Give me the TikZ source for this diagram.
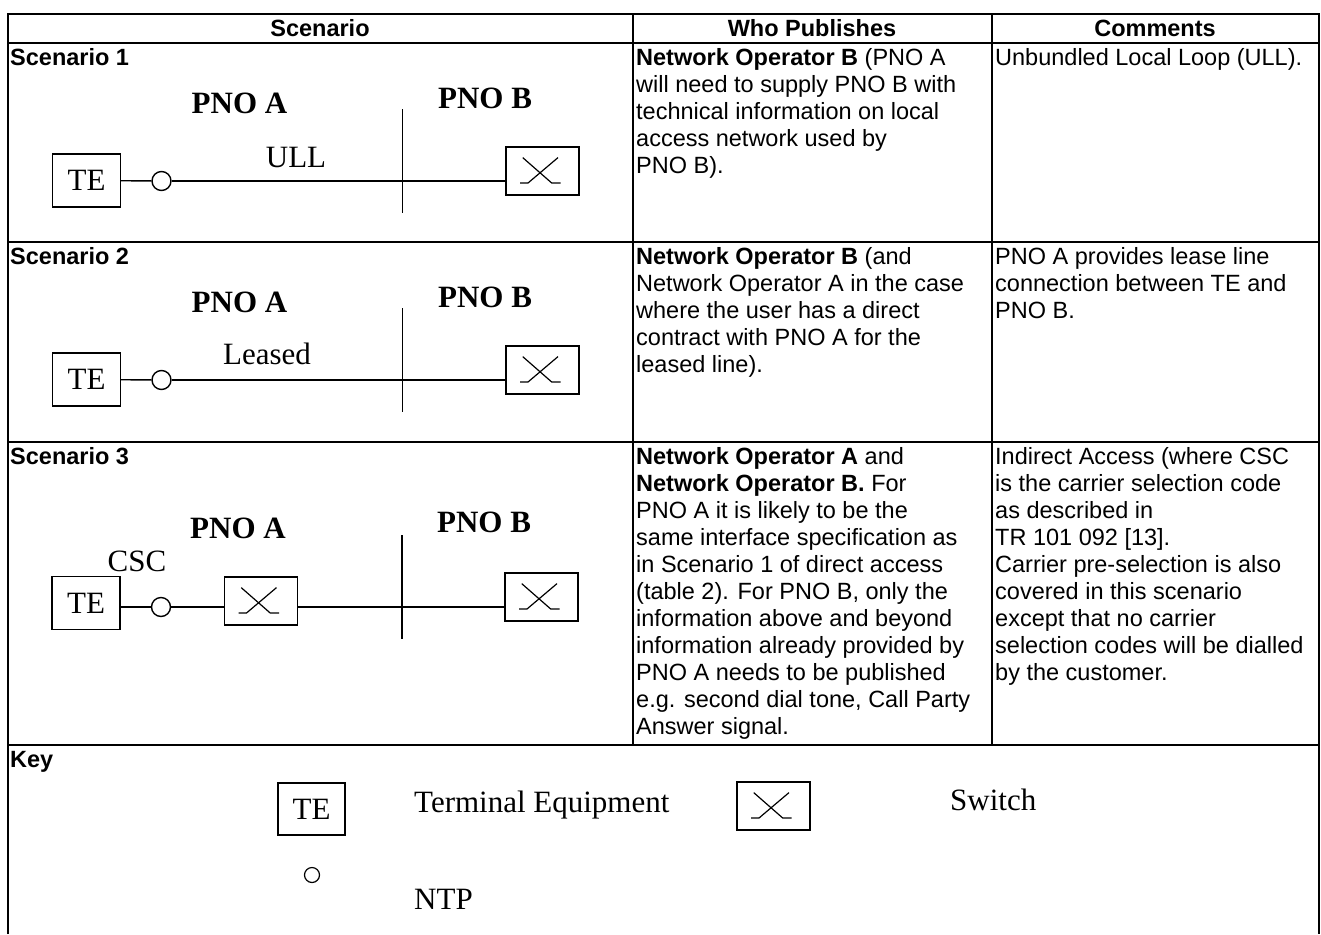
\documentclass[tikz,border=0pt]{standalone}
\usepackage{fontspec}
\setmainfont{Liberation Serif}
\setsansfont{Liberation Sans}
\usetikzlibrary{positioning,calc}

\newcommand{\diagfont}{\fontsize{31}{36}\selectfont}
\newcommand{\tabfont}{\sffamily\fontsize{23.5}{27}\selectfont}

\tikzset{
  gridline/.style={line width=2pt},
  wire/.style={line width=1.4pt},
  tebox/.style={draw, line width=1.4pt, minimum width=68pt, minimum height=53pt, inner sep=0pt, font=\diagfont},
  swbox/.style={draw, line width=1.4pt, minimum width=73pt, minimum height=48pt, inner sep=0pt,
    path picture={
      \draw[line width=1.2pt] ([shift={(16.7,10.6)}]path picture bounding box.north west)
        -- ([shift={(45.7,36)}]path picture bounding box.north west)
        -- ([shift={(54.7,36)}]path picture bounding box.north west);
      \draw[line width=1.2pt] ([shift={(52,10.6)}]path picture bounding box.north west)
        -- ([shift={(22,36)}]path picture bounding box.north west)
        -- ([shift={(14,36)}]path picture bounding box.north west);
    }},
  ntp/.style={circle, draw, line width=1.4pt, minimum size=19pt, inner sep=0pt},
  pno/.style={font=\diagfont\bfseries, anchor=base, inner sep=0pt},
  lbl/.style={font=\diagfont, anchor=base, inner sep=0pt},
  keytext/.style={font=\diagfont, anchor=base west, inner sep=0pt},
  cell/.style={font=\tabfont, align=left, anchor=north west, inner sep=0pt},
  rowhead/.style={font=\tabfont\bfseries, anchor=base west, inner sep=0pt},
  colhead/.style={font=\tabfont\bfseries, anchor=base, inner sep=0pt}
}

\begin{document}
\begin{tikzpicture}[x=1pt, y=-1pt]
\useasboundingbox (0,0) rectangle (1321,934);

% table frame
\draw[gridline] (8,934) -- (8,14) -- (1319,14) -- (1319,934);
\foreach \ry in {43,242,442,745}
  \draw[gridline] (8,\ry) -- (1319,\ry);
\draw[gridline] (633,14) -- (633,745);
\draw[gridline] (992,14) -- (992,745);

% headings
\node[colhead] (hScen) at (320,37) {Scenario};
\node[colhead] (hWho) at (812,37) {Who Publishes};
\node[colhead] (hCom) at (1155,37) {Comments};

% scenario 1
\node[rowhead] (s1) at (10,65) {Scenario 1};
\node[pno] (s1a) at (239.5,113) {PNO A};
\node[pno] (s1b) at (485,108) {PNO B};
\node[lbl] (ull) at (296,167) {ULL};
\node[tebox] (te1) at (86.5,180.5) {TE};
\node[ntp] (ntp1) at (161.5,181) {};
\node[swbox] (sw1) at (542.5,171) {};
\coordinate (d1t) at (402.7,109);
\coordinate (d1b) at (402.7,213);
\draw[wire] (d1t) -- (d1b);
\draw[wire] (te1) -- (ntp1);
\draw[wire] (ntp1) -- (ntp1 -| sw1.west);
\node[cell] (who1) at (636,48) {\textbf{Network Operator B} (PNO A\\will need to supply PNO B with\\technical information on local\\access network used by\\PNO B).};
\node[cell] (com1) at (995,48) {Unbundled Local Loop (ULL).};

% scenario 2
\node[rowhead] (s2) at (10,264) {Scenario 2};
\node[pno] (s2a) at (239.5,312) {PNO A};
\node[pno] (s2b) at (485,307) {PNO B};
\node[lbl] (leased) at (267,364) {Leased};
\node[tebox] (te2) at (86.5,379.5) {TE};
\node[ntp] (ntp2) at (161.5,380) {};
\node[swbox] (sw2) at (542.5,370) {};
\coordinate (d2t) at (402.7,308);
\coordinate (d2b) at (402.7,412);
\draw[wire] (d2t) -- (d2b);
\draw[wire] (te2) -- (ntp2);
\draw[wire] (ntp2) -- (ntp2 -| sw2.west);
\node[cell] (who2) at (636,247) {\textbf{Network Operator B} (and\\Network Operator A in the case\\where the user has a direct\\contract with PNO A for the\\leased line).};
\node[cell] (com2) at (995,247) {PNO A provides lease line\\connection between TE and\\PNO B.};

% scenario 3
\node[rowhead] (s3) at (10,464) {Scenario 3};
\node[pno] (s3a) at (238,538) {PNO A};
\node[pno] (s3b) at (484,532) {PNO B};
\node[lbl] (csc) at (137,571) {CSC};
\node[tebox] (te3) at (86,603) {TE};
\node[ntp] (ntp3) at (161,607) {};
\node[swbox] (swA) at (261,601) {};
\node[swbox] (swB) at (541.5,597) {};
\coordinate (d3t) at (402,535);
\coordinate (d3b) at (402,639);
\draw[wire] (d3t) -- (d3b);
\draw[wire] (te3.east |- ntp3) -- (ntp3);
\draw[wire] (ntp3) -- (ntp3 -| swA.west);
\draw[wire] (ntp3 -| swA.east) -- (ntp3 -| swB.west);
\node[cell] (who3) at (636,447) {\textbf{Network Operator A} and\\\textbf{Network Operator B.} For\\PNO A it is likely to be the\\same interface specification as\\in Scenario 1 of direct access\\(table 2). For PNO B, only the\\information above and beyond\\information already provided by\\PNO A needs to be published\\e.g. second dial tone, Call Party\\Answer signal.};
\node[cell] (com3) at (995,447) {Indirect Access (where CSC\\is the carrier selection code\\as described in\\TR 101 092 [13].\\Carrier pre-selection is also\\covered in this scenario\\except that no carrier\\selection codes will be dialled\\by the customer.};

% key
\node[rowhead] (key) at (10,767) {Key};
\node[tebox, minimum width=67pt, minimum height=52pt] (tek) at (311.5,809) {TE};
\node[keytext] (tekt) at (414,812) {Terminal Equipment};
\node[swbox] (swk) at (773.5,806) {};
\node[keytext] (swkt) at (950,810) {Switch};
\node[ntp, minimum size=15pt, line width=1.2pt] (ntpk) at (312,875) {};
\node[keytext] (ntpkt) at (414,909) {NTP};
\end{tikzpicture}
\end{document}
